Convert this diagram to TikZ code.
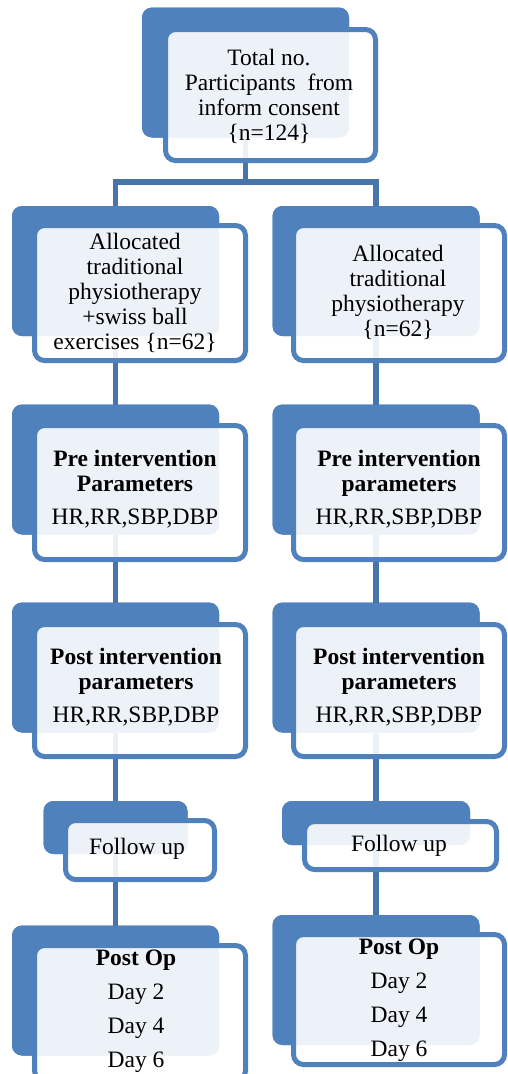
\documentclass[tikz,border=0pt]{standalone}
\usepackage{fontspec}
\setmainfont{Liberation Serif}
\definecolor{boxblue}{HTML}{4F81BD}
\definecolor{linkblue}{HTML}{4774AA}
\begin{document}
\begin{tikzpicture}[x=1pt,y=-1pt,
  backbox/.style={rectangle,rounded corners=10pt,fill=boxblue,draw=none,inner sep=0pt,outer sep=0pt,minimum width=207pt,minimum height=130pt},
  frontbox/.style={rectangle,rounded corners=10pt,draw=boxblue,line width=5pt,fill=white,fill opacity=0.9,inner sep=0pt,outer sep=0pt,minimum width=211pt,minimum height=135pt},
  conn/.style={draw=linkblue,line width=5.5pt},
  txt/.style={align=center,inner sep=0pt,font=\fontsize{23.5}{25}\selectfont,text=black},
  daytxt/.style={align=center,inner sep=0pt,font=\fontsize{23.5}{34}\selectfont,text=black}]
\useasboundingbox (0,0) rectangle (508,1074);
\clip (0,0) rectangle (508,1074);
\fill[white] (0,0) rectangle (508,1074);
% back boxes
\node[backbox] (b0) at (245.5,72.5) {};
\node[backbox] (b2l) at (115.5,271) {};
\node[backbox] (b2r) at (376,271) {};
\node[backbox] (b3l) at (115.5,469.5) {};
\node[backbox] (b3r) at (376,469.5) {};
\node[backbox] (b4l) at (115.5,667.5) {};
\node[backbox] (b4r) at (376,667.5) {};
\node[backbox,minimum width=144pt,minimum height=53pt] (b5l) at (115.5,827.5) {};
\node[backbox,minimum width=188pt,minimum height=44pt] (b5r) at (376,823) {};
\node[backbox] (b6l) at (115.5,990.5) {};
\node[backbox] (b6r) at (376,980) {};
% connectors
\coordinate (split) at (245.5,182);
\draw[conn] (b0.south) -- (split);
\draw[conn] (b2l.north) |- (split) -| (b2r.north);
\draw[conn] (b2l.south) -- (b3l.north);
\draw[conn] (b2r.south) -- (b3r.north);
\draw[conn] (b3l.south) -- (b4l.north);
\draw[conn] (b3r.south) -- (b4r.north);
\draw[conn] (b4l.south) -- (b5l.north);
\draw[conn] (b4r.south) -- (b5r.north);
\draw[conn] (b5l.south) -- (b6l.north);
\draw[conn] (b5r.south) -- (b6r.north);
% redraw back boxes over connector ends
\foreach \n in {b0,b2l,b2r,b3l,b3r,b4l,b4r,b5l,b5r,b6l,b6r}{
  \fill[boxblue,rounded corners=10pt] (\n.north west) rectangle (\n.south east);
}
% front boxes
\node[frontbox,minimum width=210pt,minimum height=131pt] (f0) at (270.5,95) {};
\node[frontbox] (f2l) at (140,293) {};
\node[frontbox] (f2r) at (399,293) {};
\node[frontbox,minimum height=134pt] (f3l) at (140,492.5) {};
\node[frontbox,minimum height=134pt] (f3r) at (399,492.5) {};
\node[frontbox,minimum height=132pt] (f4l) at (140,690.5) {};
\node[frontbox,minimum height=132pt] (f4r) at (399,690.5) {};
\node[frontbox,minimum width=149pt,minimum height=59pt] (f5l) at (140,850) {};
\node[frontbox,minimum width=192pt,minimum height=48pt] (f5r) at (400.5,845.5) {};
\node[frontbox] (f6l) at (140,1013) {};
\node[frontbox,minimum height=130pt] (f6r) at (399,999.5) {};
% texts
\node[txt] (t0) at (269,96) {Total no.\\Participants\ \ from\\inform consent\\\{n=124\}};
\node[txt] (t2l) at (135,293) {Allocated\\traditional\\physiotherapy\\+swiss ball\\exercises \{n=62\}};
\node[txt] (t2r) at (398,292) {Allocated\\traditional\\physiotherapy\\\{n=62\}};
\node[txt] (t3l) at (135,489) {\textbf{Pre intervention}\\\textbf{Parameters}\\[8pt]HR,RR,SBP,DBP};
\node[txt] (t3r) at (399,489) {\textbf{Pre intervention}\\\textbf{parameters}\\[8pt]HR,RR,SBP,DBP};
\node[txt] (t4l) at (136,687.5) {\textbf{Post intervention}\\\textbf{parameters}\\[8pt]HR,RR,SBP,DBP};
\node[txt] (t4r) at (399,687.5) {\textbf{Post intervention}\\\textbf{parameters}\\[8pt]HR,RR,SBP,DBP};
\node[txt] (t5l) at (137,849) {Follow up};
\node[txt] (t5r) at (399,846) {Follow up};
\node[daytxt] (t6l) at (136,1011) {\textbf{Post Op}\\Day 2\\Day 4\\Day 6};
\node[daytxt] (t6r) at (399,1000) {\textbf{Post Op}\\Day 2\\Day 4\\Day 6};
\end{tikzpicture}
\end{document}
